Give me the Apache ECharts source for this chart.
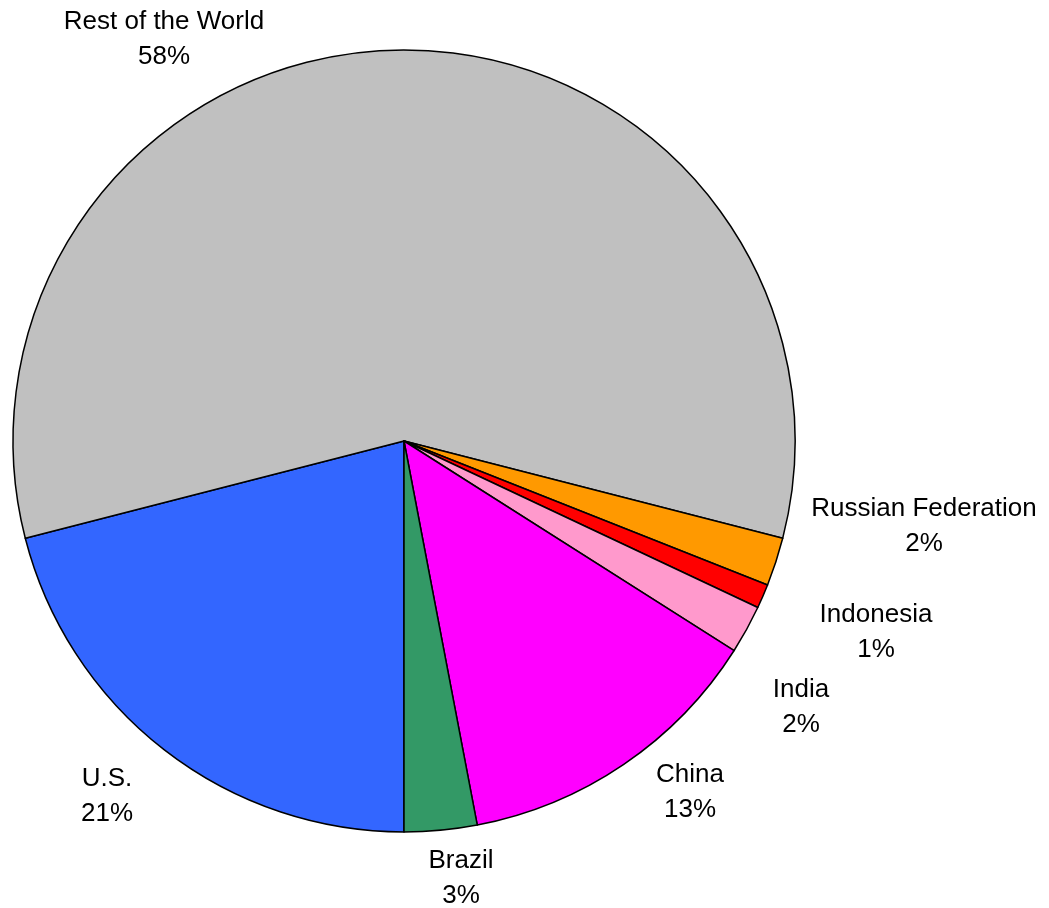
<!DOCTYPE html>
<html>
<head>
<meta charset="utf-8">
<script src="https://cdn.jsdelivr.net/npm/echarts@6/dist/echarts.min.js"></script>
<style>
  html, body { margin: 0; padding: 0; background: #ffffff; }
  #chart { width: 1049px; height: 908px; }
</style>
</head>
<body>
<div id="chart"></div>
<script>
// Share of total, in percent, listed clockwise starting from the bottom of the pie
const countries = ['U.S.', 'Rest of the World', 'Russian Federation', 'Indonesia', 'India', 'China', 'Brazil'];
const shares = [21, 58, 2, 1, 2, 13, 3];
const sliceColors = ['#3366FF', '#C0C0C0', '#FF9900', '#FF0000', '#FF99CC', '#FF00FF', '#339966'];

// Where each two-line label block is centred on the page
const labelSpots = {
  'U.S.': [107, 796],
  'Rest of the World': [164, 39],
  'Russian Federation': [924, 526],
  'Indonesia': [876, 632],
  'India': [801, 707],
  'China': [690, 792],
  'Brazil': [461, 878]
};

const chart = echarts.init(document.getElementById('chart'), null, { renderer: 'canvas' });

chart.setOption({
  backgroundColor: '#ffffff',
  animation: false,
  series: [{
    type: 'pie',
    center: [404, 441],
    radius: 391,
    startAngle: -90,
    clockwise: true,
    avoidLabelOverlap: false,
    data: countries.map((name, i) => ({
      name: name,
      value: shares[i],
      itemStyle: { color: sliceColors[i] }
    })),
    itemStyle: { borderColor: '#000000', borderWidth: 1.5 },
    emphasis: { disabled: true },
    label: {
      show: true,
      position: 'outside',
      formatter: '{b}\n{c}%',
      fontFamily: 'Liberation Sans, Arial, sans-serif',
      fontSize: 26,
      lineHeight: 35,
      color: '#000000',
      align: 'center'
    },
    labelLine: { show: false },
    labelLayout: function (params) {
      const name = countries[params.dataIndex];
      const spot = labelSpots[name];
      return { x: spot[0], y: spot[1], align: 'center', verticalAlign: 'middle' };
    }
  }]
});
</script>
</body>
</html>
